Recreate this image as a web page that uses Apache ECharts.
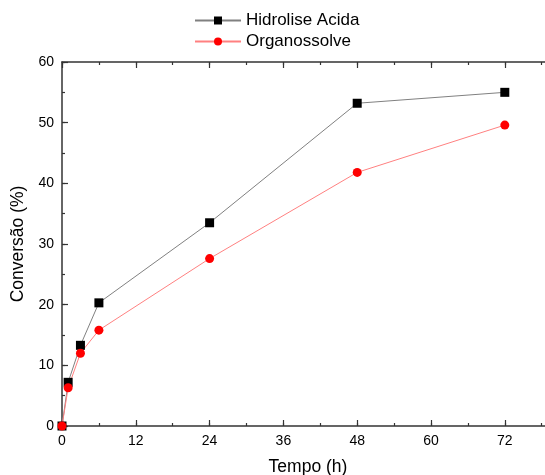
<!DOCTYPE html>
<html><head><meta charset="utf-8">
<script src="https://cdn.jsdelivr.net/npm/echarts@6/dist/echarts.min.js"></script>
<style>html,body{margin:0;padding:0;background:#fff}#c{width:545px;height:475px}</style>
</head><body><div id="c"></div>
<script>
const tempo = [0, 1, 3, 6, 24, 48, 72];
const hidroliseAcida = [0, 7.2, 13.3, 20.3, 33.5, 53.2, 55.0];
const organossolve = [0, 6.3, 12.0, 15.8, 27.6, 41.8, 49.6];
const seriesNames = ['Hidrolise Acida', 'Organossolve'];

const font = 'Liberation Sans, Arial, sans-serif';
const axisColor = '#333';
const chart = echarts.init(document.getElementById('c'));

function mkAxis(type, pos, interval, len, showLine, extra) {
  const a = {
    type: 'value', position: pos,
    min: 0, max: type === 'x' ? 80 : 60, interval: interval,
    axisLine: {show: showLine, onZero: false, lineStyle: {color: axisColor, width: 1.5}},
    axisTick: {show: true, inside: true, length: len, lineStyle: {color: axisColor, width: 1.2}},
    axisLabel: {show: false},
    splitLine: {show: false}
  };
  return Object.assign(a, extra || {});
}

chart.setOption({
  animation: false,
  grid: {left: 62, top: 62, bottom: 49, right: -9, containLabel: false, outerBoundsMode: 'none'},
  legend: {
    orient: 'vertical', left: 194, top: 12, padding: 0,
    itemWidth: 46, itemHeight: 10, itemGap: 4,
    textStyle: {fontFamily: font, fontSize: 17, color: '#000'},
    data: seriesNames
  },
  xAxis: [
    mkAxis('x', 'bottom', 12, 6, true, {
      name: 'Tempo (h)', nameLocation: 'middle', nameGap: 32,
      nameTextStyle: {fontFamily: font, fontSize: 17.5, color: '#000'},
      axisLabel: {show: true, fontFamily: font, fontSize: 14, color: '#000', margin: 8, showMaxLabel: false}
    }),
    mkAxis('x', 'top', 12, 6, true),
    mkAxis('x', 'bottom', 6, 3, false),
    mkAxis('x', 'top', 6, 3, false)
  ],
  yAxis: [
    mkAxis('y', 'left', 10, 6, true, {
      name: 'Conversão (%)', nameLocation: 'middle', nameGap: 31,
      nameTextStyle: {fontFamily: font, fontSize: 17.5, color: '#000'},
      axisLabel: {show: true, fontFamily: font, fontSize: 14, color: '#000', margin: 8}
    }),
    mkAxis('y', 'right', 10, 6, true),
    mkAxis('y', 'left', 5, 3, false),
    mkAxis('y', 'right', 5, 3, false)
  ],
  series: [
    {
      name: seriesNames[0], type: 'line',
      data: tempo.map((t, i) => [t, hidroliseAcida[i]]),
      symbol: 'rect', symbolSize: 9,
      itemStyle: {color: '#000'},
      lineStyle: {color: '#808080', width: 1}
    },
    {
      name: seriesNames[1], type: 'line',
      data: tempo.map((t, i) => [t, organossolve[i]]),
      symbol: 'circle', symbolSize: 9,
      itemStyle: {color: '#ff0000'},
      lineStyle: {color: '#ff8080', width: 1}
    }
  ]
});
</script></body></html>
